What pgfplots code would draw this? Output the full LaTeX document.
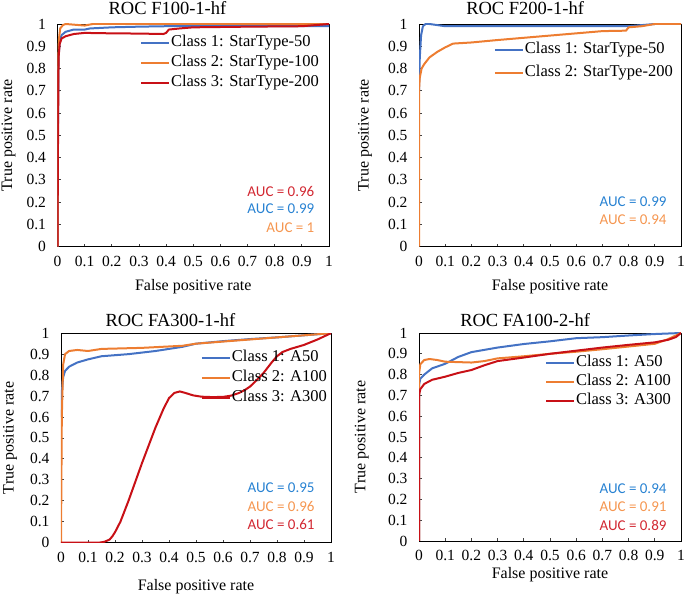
\documentclass[border=0pt]{standalone}
\usepackage{fontspec}
\setmainfont{Liberation Serif}
\newfontfamily\calibri{Carlito}
\usepackage{pgfplots}
\pgfplotsset{compat=1.18}

\definecolor{cblue}{RGB}{68,114,196}
\definecolor{corange}{RGB}{237,125,49}
\definecolor{cred}{RGB}{200,16,22}
\definecolor{tblue}{RGB}{40,130,210}
\definecolor{torange}{RGB}{245,150,80}
\definecolor{tred}{RGB}{210,40,50}

\tikzset{auc/.style={anchor=east, font=\calibri\fontsize{15}{18}\selectfont}}

\pgfplotsset{
  rocax/.style={
    scale only axis,
    anchor=south west,
    xmin=0, xmax=1, ymin=0, ymax=1,
    xtick={0,0.1,...,1}, ytick={0,0.1,...,1},
    tick pos=left, tick align=inside,
    major tick length=3pt,
    tick style={black!75, line width=0.8pt},
    axis line style={black, line width=0.8pt},
    /pgf/number format/assume math mode=true,
    tick label style={font=\fontsize{15.5}{18}\selectfont},
    xticklabel style={yshift=-6pt},
    yticklabel style={xshift=-8pt},
    label style={font=\fontsize{16}{19}\selectfont},
    xlabel={False positive rate},
    ylabel={True positive rate},
    title style={font=\fontsize{18.5}{22}\selectfont, at={(axis description cs:0.405,1)}, anchor=base},
    legend cell align=left,
    legend style={draw=none, fill=none, anchor=north east, inner sep=0pt,
      font=\fontsize{16.5}{19}\selectfont, column sep=0pt,
      nodes={inner xsep=1pt, inner ysep=2.5pt, text height=11pt, text depth=4pt}},
    legend image code/.code={\draw[#1, line width=2pt] (0pt,0pt) -- (28pt,0pt);},
    every axis plot/.append style={line width=2pt, line join=round},
  },
}

\begin{document}
\begin{tikzpicture}
\useasboundingbox (0,0) rectangle (685pt,596pt);

% ROC F100-1-hf
\begin{axis}[rocax, at={(57.5pt,349.3pt)}, width=271.5pt, height=222.7pt,
  title={ROC F100-1-hf}, title style={yshift=3pt},
  xlabel style={at={(axis description cs:0.5,-0.18)}, anchor=center},
  ylabel style={at={(axis description cs:-0.18,0.5)}, anchor=center},
  legend style={at={(axis description cs:0.967,0.96)}}]
\addplot[cblue] coordinates {(0,0) (0.002,0.6) (0.004,0.85) (0.008,0.92) (0.015,0.95) (0.03,0.965) (0.06,0.975) (0.1,0.975) (0.12,0.98) (0.2,0.985) (0.3,0.988) (0.4,0.99) (0.6,0.99) (0.8,0.99) (1,0.99)};
\addplot[corange] coordinates {(0,0) (0.002,0.8) (0.005,0.93) (0.01,0.98) (0.02,0.995) (0.03,1) (0.08,0.995) (0.1,0.993) (0.13,1) (1,1)};
\addplot[cred] coordinates {(0,0) (0.002,0.5) (0.004,0.85) (0.008,0.91) (0.015,0.935) (0.03,0.945) (0.06,0.955) (0.1,0.96) (0.2,0.958) (0.3,0.957) (0.39,0.955) (0.4,0.96) (0.41,0.975) (0.45,0.98) (0.5,0.985) (0.7,0.988) (0.9,0.99) (1,1)};
\legend{Class 1: StarType-50, Class 2: StarType-100, Class 3: StarType-200}
\node[auc, text=tred] at (axis description cs:0.959,0.246) {AUC = 0.96};
\node[auc, text=tblue] at (axis description cs:0.959,0.169) {AUC = 0.99};
\node[auc, text=torange] at (axis description cs:0.959,0.084) {AUC = 1};
\end{axis}

% ROC F200-1-hf
\begin{axis}[rocax, at={(419pt,349.3pt)}, width=262pt, height=222.7pt,
  title={ROC F200-1-hf}, title style={yshift=3pt},
  xlabel style={at={(axis description cs:0.5,-0.18)}, anchor=center},
  ylabel style={at={(axis description cs:-0.206,0.5)}, anchor=center},
  legend style={at={(axis description cs:0.973,0.937)}, nodes={text height=13pt, text depth=5pt}}]
\addplot[cblue] coordinates {(0,0.7) (0.003,0.85) (0.008,0.95) (0.015,0.99) (0.025,1) (0.04,1) (0.07,0.995) (0.1,0.99) (0.5,0.99) (0.8,0.99) (0.85,0.995) (0.9,1) (1,1)};
\addplot[corange] coordinates {(0,0) (0,0.7) (0.003,0.76) (0.01,0.8) (0.02,0.82) (0.04,0.85) (0.07,0.875) (0.1,0.895) (0.13,0.912) (0.2,0.917) (0.3,0.928) (0.4,0.938) (0.5,0.948) (0.6,0.958) (0.7,0.968) (0.79,0.97) (0.8,0.985) (0.85,0.99) (0.9,1) (1,1)};
\legend{Class 1: StarType-50, Class 2: StarType-200}
\node[auc, text=tblue] at (axis description cs:0.958,0.2) {AUC = 0.99};
\node[auc, text=torange] at (axis description cs:0.958,0.12) {AUC = 0.94};
\end{axis}

% ROC FA300-1-hf
\begin{axis}[rocax, at={(61pt,53.3pt)}, width=270pt, height=209.5pt,
  title={ROC FA300-1-hf}, title style={yshift=0.5pt},
  xlabel style={at={(axis description cs:0.5,-0.21)}, anchor=center},
  ylabel style={at={(axis description cs:-0.189,0.5)}, anchor=center},
  legend style={at={(axis description cs:0.989,0.928)}}]
\addplot[cblue] coordinates {(0,0.6) (0.003,0.72) (0.008,0.79) (0.015,0.82) (0.03,0.84) (0.06,0.86) (0.1,0.875) (0.15,0.89) (0.25,0.9) (0.35,0.915) (0.45,0.935) (0.5,0.95) (0.6,0.962) (0.7,0.972) (0.8,0.98) (0.9,0.99) (1,1)};
\addplot[corange] coordinates {(0,0) (0.003,0.6) (0.008,0.85) (0.015,0.9) (0.03,0.915) (0.06,0.92) (0.1,0.915) (0.15,0.925) (0.3,0.93) (0.45,0.94) (0.5,0.95) (0.6,0.96) (0.7,0.97) (0.8,0.98) (0.9,0.99) (1,1)};
\addplot[cred] coordinates {(0,0) (0.14,0) (0.16,0.004) (0.18,0.015) (0.19,0.03) (0.2,0.05) (0.22,0.1) (0.25,0.2) (0.3,0.38) (0.35,0.55) (0.38,0.64) (0.4,0.69) (0.42,0.715) (0.44,0.722) (0.46,0.715) (0.49,0.703) (0.52,0.697) (0.56,0.695) (0.6,0.696) (0.63,0.702) (0.66,0.715) (0.68,0.728) (0.7,0.745) (0.72,0.77) (0.75,0.81) (0.78,0.86) (0.8,0.89) (0.82,0.91) (0.85,0.925) (0.9,0.944) (0.95,0.97) (1,1)};
\legend{Class 1: A50, Class 2: A100, Class 3: A300}
\node[auc, text=tblue] at (axis description cs:0.952,0.261) {AUC = 0.95};
\node[auc, text=torange] at (axis description cs:0.952,0.175) {AUC = 0.96};
\node[auc, text=tred] at (axis description cs:0.952,0.089) {AUC = 0.61};
\end{axis}

% ROC FA100-2-hf
\begin{axis}[rocax, at={(419pt,55pt)}, width=262pt, height=208pt,
  title={ROC FA100-2-hf}, title style={yshift=0.5pt},
  xlabel style={at={(axis description cs:0.5,-0.163)}, anchor=center},
  ylabel style={at={(axis description cs:-0.218,0.5)}, anchor=center},
  legend style={at={(axis description cs:0.966,0.904)}, nodes={text height=10.5pt, text depth=3.5pt}}]
\addplot[cblue] coordinates {(0,0) (0,0.75) (0.005,0.78) (0.02,0.8) (0.05,0.83) (0.1,0.852) (0.15,0.885) (0.2,0.908) (0.3,0.93) (0.4,0.947) (0.5,0.96) (0.6,0.975) (0.7,0.98) (0.8,0.988) (0.9,0.995) (1,1)};
\addplot[corange] coordinates {(0,0) (0,0.8) (0.005,0.85) (0.02,0.87) (0.04,0.875) (0.07,0.87) (0.1,0.862) (0.2,0.858) (0.25,0.865) (0.3,0.878) (0.4,0.888) (0.5,0.9) (0.6,0.91) (0.7,0.922) (0.8,0.935) (0.9,0.948) (0.95,0.97) (1,1)};
\addplot[cred] coordinates {(0,0) (0,0.7) (0.005,0.73) (0.02,0.755) (0.05,0.775) (0.1,0.79) (0.15,0.808) (0.2,0.822) (0.25,0.845) (0.3,0.865) (0.4,0.882) (0.5,0.9) (0.6,0.915) (0.7,0.93) (0.8,0.943) (0.9,0.955) (0.95,0.967) (0.98,0.98) (1,1)};
\legend{Class 1: A50, Class 2: A100, Class 3: A300}
\node[auc, text=tblue] at (axis description cs:0.958,0.25) {AUC = 0.94};
\node[auc, text=torange] at (axis description cs:0.958,0.163) {AUC = 0.91};
\node[auc, text=tred] at (axis description cs:0.958,0.077) {AUC = 0.89};
\end{axis}
\end{tikzpicture}
\end{document}
